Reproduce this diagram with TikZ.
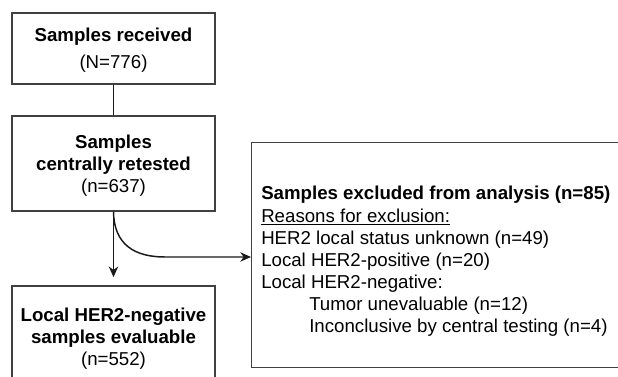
\documentclass[tikz,border=0pt]{standalone}
\usepackage{fontspec}
\setmainfont{Liberation Sans}
\usetikzlibrary{arrows.meta, positioning, calc}

\begin{document}
\begin{tikzpicture}[
    x=0.75pt, y=-0.75pt,
    every node/.style={font=\fontsize{14}{16.5}\selectfont},
    box/.style={rectangle, draw=black!75, line width=1.1pt, align=center, minimum width=152.25pt, inner sep=0pt, text depth=-1.5pt},
    exbox/.style={rectangle, draw=black!75, line width=1.1pt, minimum width=300pt, minimum height=168.75pt, inner sep=0pt},
    link/.style={draw=black!90, line width=1.1pt},
    arr/.style={link, -{Stealth[length=8pt, width=7pt, inset=2.5pt]}}
]
\useasboundingbox (0,0) rectangle (618,377);
\clip (0,0) rectangle (618,377);

\node[box, minimum height=53.25pt] (received) at (113.5, 48.5) {\textbf{Samples received}\\[3.5pt](N=776)};
\node[box, minimum height=71.25pt] (retested) at (113.5, 163.5) {\textbf{Samples}\\\textbf{centrally retested}\\(n=637)};
\node[box, minimum height=75.75pt] (evaluable) at (113.5, 336.5) {\textbf{Local HER2-negative}\\\textbf{samples evaluable}\\(n=552)};

\node[exbox, anchor=north west] (excluded) at (251, 142) {};
\node[anchor=north west, align=left, inner sep=0pt] (reasons) at (261, 186) {%
    \textbf{Samples excluded from analysis (n=85)}\\[0.5pt]
    \underline{Reasons for exclusion:}\\
    HER2 local status unknown (n=49)\\
    Local HER2-positive (n=20)\\
    Local HER2-negative:\\
    \hspace{36pt}Tumor unevaluable (n=12)\\
    \hspace{36pt}Inconclusive by central testing (n=4)};

\coordinate (bend) at (165, 257);

\draw[link] (received) -- (retested);
\draw[arr, shorten >=6pt] (retested) -- (evaluable);
\draw[arr] (retested.south) .. controls (114, 245) and (135, 257) .. (bend) -- (bend -| excluded.west);
\end{tikzpicture}
\end{document}
